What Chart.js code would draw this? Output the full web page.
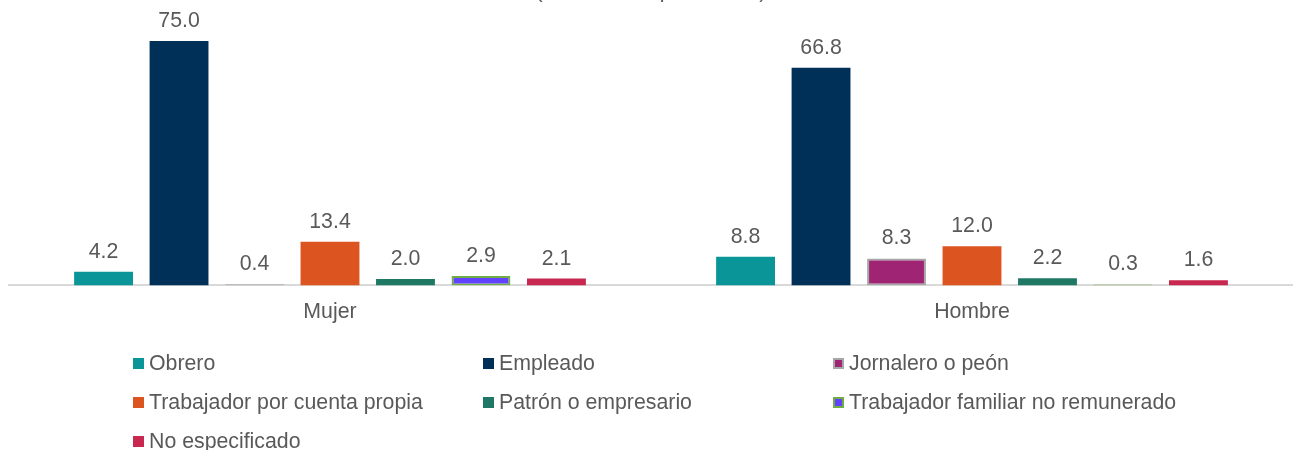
<!DOCTYPE html>
<html lang="es">
<head>
  <meta charset="UTF-8">
  <title>Posición en el trabajo por sexo</title>
  <script src="https://cdn.jsdelivr.net/npm/chart.js"></script>
  <style>
    html, body { margin: 0; padding: 0; background: #fff; overflow: hidden; }
    #wrap { position: relative; width: 1293px; height: 450px; overflow: hidden; }
    #box { position: absolute; left: 0; top: -30px; width: 1293px; height: 480px; }
    #legend {
      position: absolute; left: 133px; top: 344px; width: 1100px;
      display: flex; flex-wrap: wrap;
      font-family: "Liberation Sans", Arial, sans-serif; font-size: 21.3px; color: #595959;
    }
    #legend .item { width: 350px; height: 39px; display: flex; align-items: center; }
    #legend .sw { width: 11px; height: 11px; margin-right: 5px; box-sizing: border-box; flex: none; }
  </style>
</head>
<body>
  <div id="wrap">
    <div id="box"><canvas id="chart"></canvas></div>
    <div id="legend"></div>
  </div>

  <script>
    const categories = ["Mujer", "Hombre"];
    const seriesNames = [
      "Obrero", "Empleado", "Jornalero o peón", "Trabajador por cuenta propia",
      "Patrón o empresario", "Trabajador familiar no remunerado", "No especificado"
    ];
    const obrero = [4.2, 8.8];
    const empleado = [75.0, 66.8];
    const jornalero = [0.4, 8.3];
    const cuentaPropia = [13.4, 12.0];
    const patron = [2.0, 2.2];
    const familiar = [2.9, 0.3];
    const noEspecificado = [2.1, 1.6];

    const seriesValues = [obrero, empleado, jornalero, cuentaPropia, patron, familiar, noEspecificado];
    const fills = ["#0A9598", "#003057", "#A02474", "#DC5521", "#1F7864", "#6342FF", "#C8284F"];
    const borders = ["#0A9598", "#003057", "#A6A6A6", "#DC5521", "#1F7864", "#70AD47", "#C8284F"];
    const borderWidths = [0, 0, 2, 0, 0, 2, 0];

    Chart.defaults.font.family = '"Liberation Sans", Arial, sans-serif';
    Chart.defaults.color = "#595959";

    // etiquetas de valor encima de cada barra
    const valueLabels = {
      id: "valueLabels",
      afterDatasetsDraw(chart) {
        const ctx = chart.ctx;
        ctx.save();
        ctx.font = '21.3px "Liberation Sans", Arial, sans-serif';
        ctx.fillStyle = "#595959";
        ctx.textAlign = "center";
        ctx.textBaseline = "alphabetic";
        chart.data.datasets.forEach((ds, i) => {
          chart.getDatasetMeta(i).data.forEach((bar, j) => {
            ctx.fillText(ds.data[j].toFixed(1), bar.x, bar.y - 14);
          });
        });
        ctx.restore();
      }
    };

    const chart = new Chart(document.getElementById("chart"), {
      type: "bar",
      data: {
        labels: categories,
        datasets: seriesNames.map((name, i) => ({
          label: name,
          data: seriesValues[i],
          backgroundColor: fills[i],
          borderColor: borders[i],
          borderWidth: borderWidths[i],
          borderSkipped: false,
          categoryPercentage: 0.823,
          barPercentage: 0.78
        }))
      },
      options: {
        responsive: true,
        maintainAspectRatio: false,
        animation: false,
        layout: { padding: { left: 9, right: 0, top: 0, bottom: 111 } },
        plugins: {
          legend: { display: false },
          tooltip: { enabled: false },
          title: {
            display: true,
            text: "(Distribución porcentual)",
            font: { size: 21.3, weight: "normal" },
            color: "#595959",
            padding: { top: 8, bottom: 21.2 }
          }
        },
        scales: {
          x: {
            grid: { display: false, drawTicks: false },
            border: { display: true, color: "#D9D9D9", width: 2 },
            ticks: { font: { size: 21.3 }, color: "#595959", padding: 14 }
          },
          y: { display: false, min: 0, max: 80 }
        }
      },
      plugins: [valueLabels]
    });

    // leyenda en tres columnas
    const legend = document.getElementById("legend");
    chart.data.datasets.forEach((ds) => {
      const item = document.createElement("div");
      item.className = "item";
      const sw = document.createElement("span");
      sw.className = "sw";
      sw.style.background = ds.backgroundColor;
      if (ds.borderWidth) sw.style.border = "2px solid " + ds.borderColor;
      const txt = document.createElement("span");
      txt.textContent = ds.label;
      item.appendChild(sw);
      item.appendChild(txt);
      legend.appendChild(item);
    });
  </script>
</body>
</html>
